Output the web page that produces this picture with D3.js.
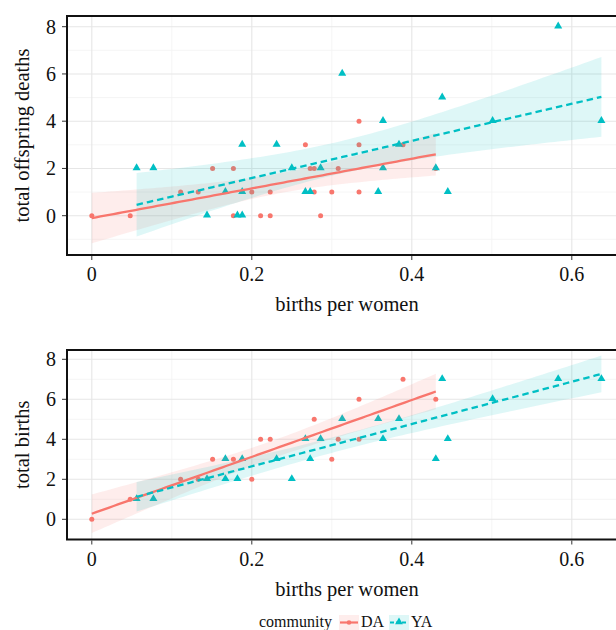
<!DOCTYPE html>
<html>
<head>
<meta charset="utf-8">
<script src="https://cdn.jsdelivr.net/npm/d3@7"></script>
<style>
  body { margin: 0; background: #fff; }
  svg { display: block; font-family: "Liberation Serif", "Times New Roman", serif; }
</style>
</head>
<body>
<div id="chart"></div>
<script>
// values
const communities = ["DA", "YA"];
const xTicks = [0, 0.2, 0.4, 0.6];
const xMinor = [0.1, 0.3, 0.5];
const yTicks = [0, 2, 4, 6, 8];
const yMinor = [-1, 1, 3, 5, 7];

// top panel: total offspring deaths
const daDeathsX = [0, 0.048, 0.111, 0.133, 0.151, 0.177, 0.177, 0.2, 0.211, 0.223, 0.223, 0.267, 0.273, 0.278, 0.278, 0.286, 0.3, 0.308, 0.334, 0.334, 0.334, 0.389, 0.43];
const daDeathsY = [0, 0, 1, 1, 2, 2, 0, 1, 0, 0, 1, 3, 2, 2, 1, 0, 1, 2, 4, 3, 1, 3, 2];
const yaDeathsX = [0.056, 0.077, 0.144, 0.167, 0.182, 0.188, 0.188, 0.188, 0.231, 0.25, 0.267, 0.273, 0.286, 0.313, 0.358, 0.364, 0.364, 0.384, 0.43, 0.438, 0.445, 0.501, 0.583, 0.637];
const yaDeathsY = [2, 2, 0, 1, 0, 0, 1, 3, 3, 2, 1, 1, 2, 6, 1, 2, 4, 3, 2, 5, 1, 4, 8, 4];

// bottom panel: total births
const daBirthsX = [0, 0.048, 0.111, 0.133, 0.151, 0.177, 0.2, 0.211, 0.223, 0.278, 0.3, 0.308, 0.334, 0.334, 0.389, 0.43];
const daBirthsY = [0, 1, 2, 2, 3, 3, 2, 4, 4, 5, 3, 4, 6, 4, 7, 6];
const yaBirthsX = [0.056, 0.077, 0.144, 0.167, 0.167, 0.182, 0.188, 0.231, 0.25, 0.267, 0.273, 0.286, 0.313, 0.358, 0.364, 0.384, 0.43, 0.438, 0.445, 0.501, 0.583, 0.637];
const yaBirthsY = [1, 1, 2, 3, 2, 2, 3, 3, 2, 4, 3, 4, 5, 5, 4, 5, 3, 7, 4, 6, 7, 7];

const width = 616;
const height = 630;
const color = d3.scaleOrdinal().domain(communities).range(["#F8766D", "#00BFC4"]);
const ribbonOpacity = 0.13;

const svg = d3.select("#chart").append("svg")
    .attr("width", width)
    .attr("height", height)
    .attr("viewBox", [0, 0, width, height]);

// the panel runs past the right edge of the picture, like the reference
const x = d3.scaleLinear().domain([-0.031, 0.669]).range([67, 627]);

//t quantile (0.975) by Cornish-Fisher expansion
function tQuantile(df) {
    const z = 1.959964;
    return z + (z ** 3 + z) / (4 * df)
        + (5 * z ** 5 + 16 * z ** 3 + 3 * z) / (96 * df * df)
        + (3 * z ** 7 + 19 * z ** 5 + 17 * z ** 3 - 15 * z) / (384 * df ** 3);
}

//linear fit with 95% band, like geom_smooth(method = "lm")
function lmFit(xs, ys) {
    const n = xs.length;
    const mx = d3.mean(xs), my = d3.mean(ys);
    let sxx = 0, sxy = 0;
    xs.forEach((v, i) => { sxx += (v - mx) ** 2; sxy += (v - mx) * (ys[i] - my); });
    const b = sxy / sxx, a = my - b * mx;
    let sse = 0;
    xs.forEach((v, i) => { sse += (ys[i] - a - b * v) ** 2; });
    const s = Math.sqrt(sse / (n - 2));
    const t = tQuantile(n - 2);
    const lo = d3.min(xs), hi = d3.max(xs);
    return d3.range(80).map(k => {
        const xv = lo + (hi - lo) * k / 79;
        const fit = a + b * xv;
        const se = s * Math.sqrt(1 / n + (xv - mx) ** 2 / sxx);
        return {x: xv, y: fit, lo: fit - t * se, hi: fit + t * se};
    });
}

function panel(top, bottom, yDomain, series, yTitle) {
    const y = d3.scaleLinear().domain(yDomain).range([bottom, top]);
    const g = svg.append("g");

    // grid
    g.append("g").selectAll("line").data(xMinor).join("line")
        .attr("x1", d => x(d)).attr("x2", d => x(d)).attr("y1", top).attr("y2", bottom)
        .attr("stroke", "#f2f2f2").attr("stroke-width", 0.8);
    g.append("g").selectAll("line").data(yMinor.filter(d => d > yDomain[0])).join("line")
        .attr("y1", d => y(d)).attr("y2", d => y(d)).attr("x1", x.range()[0]).attr("x2", x.range()[1])
        .attr("stroke", "#f2f2f2").attr("stroke-width", 0.8);
    g.append("g").selectAll("line").data(xTicks).join("line")
        .attr("x1", d => x(d)).attr("x2", d => x(d)).attr("y1", top).attr("y2", bottom)
        .attr("stroke", "#e6e6e6").attr("stroke-width", 1.1);
    g.append("g").selectAll("line").data(yTicks).join("line")
        .attr("y1", d => y(d)).attr("y2", d => y(d)).attr("x1", x.range()[0]).attr("x2", x.range()[1])
        .attr("stroke", "#e6e6e6").attr("stroke-width", 1.1);

    // points
    series.forEach(s => {
        const pts = s.xs.map((v, i) => [v, s.ys[i]]);
        if (s.key === "DA") {
            g.append("g").selectAll("circle").data(pts).join("circle")
                .attr("cx", d => x(d[0])).attr("cy", d => y(d[1])).attr("r", 2.5)
                .attr("fill", color(s.key));
        } else {
            g.append("g").selectAll("path").data(pts).join("path")
                .attr("d", d3.symbol(d3.symbolTriangle, 28))
                .attr("transform", d => `translate(${x(d[0])},${y(d[1]) - 0.5})`)
                .attr("fill", color(s.key));
        }
    });

    // confidence bands and fitted lines
    series.forEach(s => {
        const fit = lmFit(s.xs, s.ys);
        g.append("path").datum(fit)
            .attr("d", d3.area().x(d => x(d.x)).y0(d => y(d.lo)).y1(d => y(d.hi)))
            .attr("fill", color(s.key)).attr("fill-opacity", ribbonOpacity);
        s.fit = fit;
    });
    series.forEach(s => {
        g.append("path").datum(s.fit)
            .attr("d", d3.line().x(d => x(d.x)).y(d => y(d.y)))
            .attr("fill", "none").attr("stroke", color(s.key)).attr("stroke-width", 2.3)
            .attr("stroke-dasharray", s.key === "YA" ? "6.5,4" : null);
    });

    // frame
    g.append("rect")
        .attr("x", x.range()[0]).attr("y", top)
        .attr("width", x.range()[1] - x.range()[0]).attr("height", bottom - top)
        .attr("fill", "none").attr("stroke", "#111").attr("stroke-width", 2);

    // axes
    const xAxis = g.append("g").selectAll("g").data(xTicks).join("g")
        .attr("transform", d => `translate(${x(d)},${bottom})`);
    xAxis.append("line").attr("y1", 1).attr("y2", 5).attr("stroke", "#333").attr("stroke-width", 1);
    xAxis.append("text").attr("y", 26).attr("text-anchor", "middle")
        .attr("font-size", 20).attr("fill", "#111").text(d => String(d));

    const yAxis = g.append("g").selectAll("g").data(yTicks).join("g")
        .attr("transform", d => `translate(${x.range()[0]},${y(d)})`);
    yAxis.append("line").attr("x1", -1).attr("x2", -5).attr("stroke", "#333").attr("stroke-width", 1);
    yAxis.append("text").attr("x", -11).attr("dy", "0.35em").attr("text-anchor", "end")
        .attr("font-size", 20).attr("fill", "#111").text(d => d);

    g.append("text")
        .attr("x", (x.range()[0] + x.range()[1]) / 2).attr("y", bottom + 56)
        .attr("text-anchor", "middle").attr("font-size", 20.5).attr("fill", "#111")
        .text("births per women");
    g.append("text")
        .attr("transform", `translate(29,${(top + bottom) / 2}) rotate(-90)`)
        .attr("text-anchor", "middle").attr("font-size", 20.5).attr("fill", "#111")
        .text(yTitle);
}

panel(16, 255, [-1.664, 8.453],
    [{key: "DA", xs: daDeathsX, ys: daDeathsY}, {key: "YA", xs: yaDeathsX, ys: yaDeathsY}],
    "total offspring deaths");
panel(350, 539.5, [-1.01, 8.465],
    [{key: "DA", xs: daBirthsX, ys: daBirthsY}, {key: "YA", xs: yaBirthsX, ys: yaBirthsY}],
    "total births");

// legend
const legend = svg.append("g").attr("transform", "translate(0,622.5)");
legend.append("text").attr("x", 259).attr("dy", "0.3em").attr("font-size", 16).attr("fill", "#111")
    .text("community");
const keys = legend.selectAll("g.key").data(communities).join("g")
    .attr("class", "key")
    .attr("transform", (d, i) => `translate(${339 + i * 50},0)`);
keys.append("rect").attr("x", 0).attr("y", -7.5).attr("width", 20).attr("height", 15)
    .attr("fill", d => color(d)).attr("fill-opacity", ribbonOpacity);
keys.append("line").attr("x1", 1).attr("x2", 19)
    .attr("stroke", d => color(d)).attr("stroke-width", 2.2)
    .attr("stroke-dasharray", d => d === "YA" ? "4,2" : null);
keys.filter(d => d === "DA").append("circle").attr("cx", 10).attr("r", 2.3).attr("fill", color("DA"));
keys.filter(d => d === "YA").append("path").attr("d", d3.symbol(d3.symbolTriangle, 26))
    .attr("transform", "translate(10,-0.5)").attr("fill", color("YA"));
keys.append("text").attr("x", 22).attr("dy", "0.3em").attr("font-size", 16).attr("fill", "#111")
    .text(d => d);
</script>
</body>
</html>
